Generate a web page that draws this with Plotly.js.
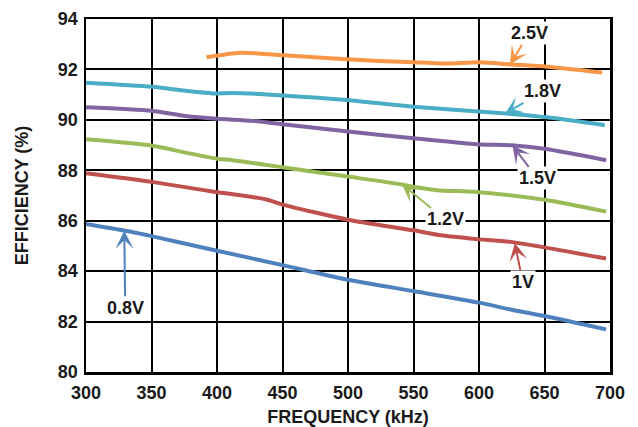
<!DOCTYPE html>
<html>
<head>
<meta charset="utf-8">
<script src="https://cdn.plot.ly/plotly-3.0.1.min.js"></script>
<style>
html,body{margin:0;padding:0;background:#fff;}
#chart{width:638px;height:427px;}
</style>
</head>
<body>
<div id="chart"></div>
<script>
// Frequency (kHz) and efficiency (%)
const f_0p8 = [300, 330, 350, 400, 450, 500, 550, 600, 624, 650, 697];
const e_0p8 = [85.87, 85.60, 85.39, 84.81, 84.24, 83.66, 83.21, 82.75, 82.48, 82.22, 81.69];

const f_1p0 = [300, 350, 394, 437, 450, 500, 550, 571, 598, 624, 697];
const e_1p0 = [87.88, 87.54, 87.18, 86.85, 86.64, 86.04, 85.62, 85.42, 85.27, 85.16, 84.50];

const f_1p2 = [300, 350, 376, 400, 412, 450, 500, 541, 550, 568, 598, 650, 697];
const e_1p2 = [89.23, 88.98, 88.70, 88.46, 88.40, 88.12, 87.75, 87.44, 87.35, 87.21, 87.14, 86.83, 86.36];

const f_1p5 = [300, 350, 376, 400, 427, 450, 500, 550, 598, 625, 650, 697];
const e_1p5 = [90.50, 90.36, 90.15, 90.04, 89.96, 89.83, 89.54, 89.27, 89.03, 88.99, 88.85, 88.40];

const f_1p8 = [300, 350, 376, 397, 412, 450, 499, 550, 618, 652, 696];
const e_1p8 = [91.47, 91.31, 91.15, 91.05, 91.07, 90.97, 90.79, 90.52, 90.26, 90.10, 89.79];

const f_2p5 = [392, 418, 448, 499, 550, 575, 601, 624, 652, 694];
const e_2p5 = [92.48, 92.66, 92.57, 92.40, 92.28, 92.24, 92.28, 92.20, 92.11, 91.88];

const seriesNames = ["0.8V", "1V", "1.2V", "1.5V", "1.8V", "2.5V"];
const seriesColors = ["#4F81BD", "#C0504D", "#9BBB59", "#8064A2", "#4BACC6", "#F79646"];
const seriesF = [f_0p8, f_1p0, f_1p2, f_1p5, f_1p8, f_2p5];
const seriesE = [e_0p8, e_1p0, e_1p2, e_1p5, e_1p8, e_2p5];

// Label arrow tips (frequency, efficiency) for each series
const labelTipF = [329.2, 627.3, 541.3, 625.5, 619.8, 623.7];
const labelTipE = [85.60, 85.12, 87.44, 88.99, 90.24, 92.20];
const labelOffX = [1, 8, 43, 25, 38, 19];
const labelOffY = [77, 39, 35, 33, -22.5, -31];

const xTicks = [300, 350, 400, 450, 500, 550, 600, 650, 700];
const yTicks = [80, 82, 84, 86, 88, 90, 92, 94];

const FONT = "Liberation Sans, Arial, Helvetica, sans-serif";

const traces = seriesNames.map((n, i) => ({
  x: seriesF[i], y: seriesE[i], name: n, type: "scatter", mode: "lines",
  line: {color: seriesColors[i], width: 4, shape: "spline", smoothing: 0.7},
  hoverinfo: "skip", showlegend: false
}));

const annotations = seriesNames.map((n, i) => ({
  x: labelTipF[i], y: labelTipE[i], xref: "x", yref: "y",
  text: n, showarrow: true, ax: labelOffX[i], ay: labelOffY[i],
  arrowhead: 3, arrowsize: 1.5, arrowwidth: 2, arrowcolor: seriesColors[i],
  bgcolor: "#ffffff", borderpad: 1, standoff: 0,
  font: {family: FONT, size: 18, color: "#1a1a1a", weight: "bold"}
}));

const layout = {
  width: 638, height: 427,
  margin: {l: 86, r: 28, t: 19, b: 55},
  paper_bgcolor: "#ffffff", plot_bgcolor: "#ffffff",
  font: {family: FONT, size: 18, color: "#1a1a1a", weight: "bold"},
  xaxis: {
    range: [300, 700], tickvals: xTicks, ticktext: xTicks.map(String),
    showgrid: true, gridcolor: "#000000", gridwidth: 2,
    showline: true, linecolor: "#000000", linewidth: 2.5, mirror: true,
    zeroline: false, ticks: "", ticklabelstandoff: 3,
    tickfont: {family: FONT, size: 18, color: "#1a1a1a", weight: "bold"},
    title: {text: "FREQUENCY (kHz)", standoff: 12,
            font: {family: FONT, size: 18, color: "#1a1a1a", weight: "bold"}}
  },
  yaxis: {
    range: [80, 94], tickvals: yTicks, ticktext: yTicks.map(String),
    showgrid: true, gridcolor: "#000000", gridwidth: 2,
    showline: true, linecolor: "#000000", linewidth: 2.5, mirror: true,
    zeroline: false, ticks: "", ticklabelstandoff: 2,
    tickfont: {family: FONT, size: 18, color: "#1a1a1a", weight: "bold"},
    title: {text: "EFFICIENCY (%)", standoff: 25,
            font: {family: FONT, size: 18, color: "#1a1a1a", weight: "bold"}}
  },
  annotations: annotations
};

Plotly.newPlot("chart", traces, layout, {displayModeBar: false, staticPlot: true});
</script>
</body>
</html>
